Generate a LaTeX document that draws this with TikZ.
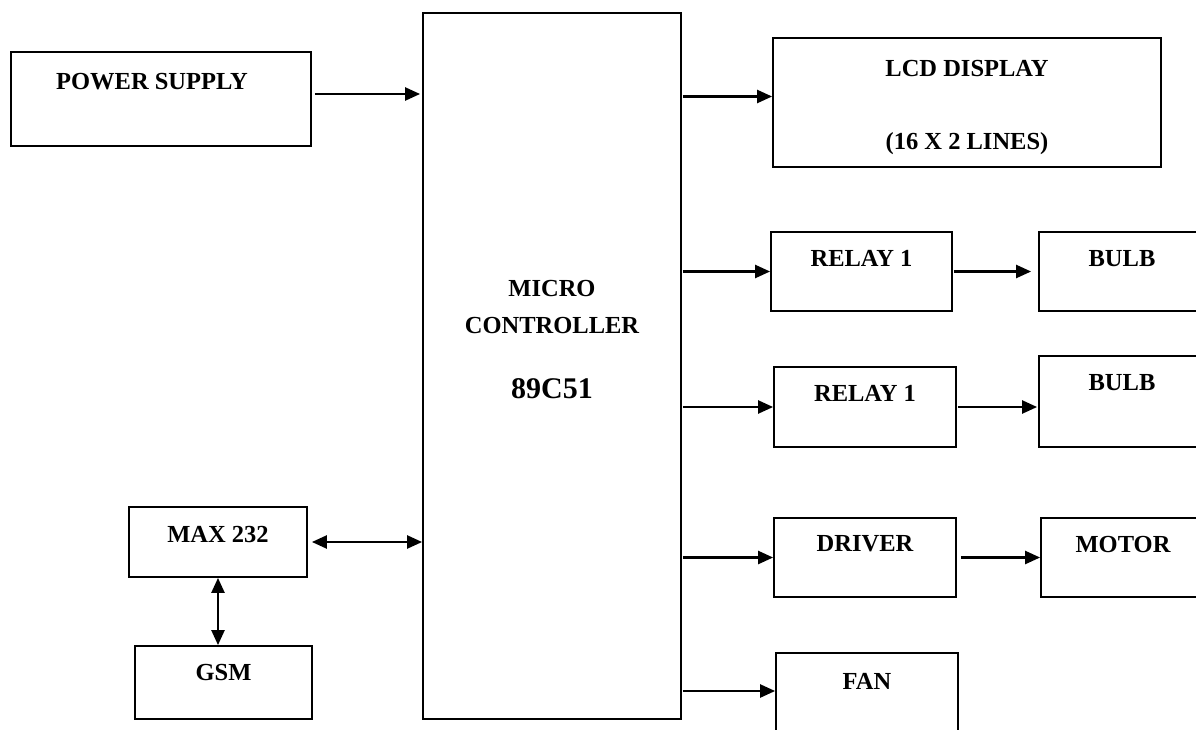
\documentclass[tikz,border=0pt]{standalone}
\usepackage{fontspec}
\setmainfont{Liberation Serif}
\usepackage{tikz}
\usetikzlibrary{arrows.meta}
\tikzset{
	block/.style={draw,line width=1.8pt,inner sep=0pt},
	boxtext/.style={anchor=center,yshift=-#1},
	boxtext/.default=27pt,
	link/.style={line width=2.4pt}
}

\begin{document}
\begin{tikzpicture}[x=1pt,y=-1pt,->,>={Triangle[length=15pt,width=13pt]},
	font=\bfseries\fontsize{24.5}{29}\selectfont]
	\useasboundingbox (0,0) rectangle (1196,730);
	\clip (0,0) rectangle (1196,730);
	\node [block,minimum width=300pt,minimum height=94pt,
		label={[boxtext=30pt,xshift=-9pt]north:POWER SUPPLY}] (ps) at (161,99) {};
	\node [block,minimum width=258pt,minimum height=706pt,
		label={[boxtext=295pt,align=center]north:MICRO\\[8pt]CONTROLLER},
		label={[boxtext=377pt,font=\bfseries\fontsize{30}{36}\selectfont]north:89C51}] (mc) at (552,366) {};
	\node [block,minimum width=388pt,minimum height=129pt,
		label={[boxtext=70.6pt,align=center]north:LCD DISPLAY\\[44pt](16 X 2 LINES)}] (lcd) at (967,102.2) {};
	\node [block,minimum width=181pt,minimum height=79pt,label={[boxtext]north:RELAY 1}] (rly1) at (861.5,271.5) {};
	\node [block,minimum width=182pt,minimum height=80pt,label={[boxtext]north:RELAY 1}] (rly2) at (865,407) {};
	\node [block,minimum width=166pt,minimum height=79pt,label={[boxtext]north:BULB}] (bulb1) at (1122,271.5) {};
	\node [block,minimum width=166pt,minimum height=91pt,label={[boxtext]north:BULB}] (bulb2) at (1122,401.5) {};
	\node [block,minimum width=182pt,minimum height=79pt,label={[boxtext]north:DRIVER}] (drv) at (865,557.5) {};
	\node [block,minimum width=164pt,minimum height=79pt,label={[boxtext]north:MOTOR}] (motor) at (1123,557.5) {};
	\node [block,minimum width=182pt,minimum height=87pt,label={[boxtext=29pt]north:FAN}] (fan) at (867,696.5) {};
	\node [block,minimum width=178pt,minimum height=70pt,label={[boxtext=28pt]north:MAX 232}] (max) at (218,542) {};
	\node [block,minimum width=177pt,minimum height=73pt,label={[boxtext]north:GSM}] (gsm) at (223.5,682.5) {};

	\draw [link,shorten <=3pt,shorten >=2pt] (ps.east |- 0,94) -- (mc.west |- 0,94);
	\draw [link,shorten <=1pt] (mc.east |- 0,96.5) -- (lcd.west |- 0,96.5);
	\draw [link,shorten <=1pt] (mc.east |- rly1.west) -- (rly1.west);
	\draw [link,shorten <=1pt] (mc.east |- rly2.west) -- (rly2.west);
	\draw [link,shorten <=1pt] (mc.east |- drv.west) -- (drv.west);
	\draw [link,shorten <=1pt] (mc.east |- 0,691) -- (fan.west |- 0,691);
	\draw [link,shorten <=1pt,shorten >=7pt] (rly1.east) -- (rly1.east -| bulb1.west);
	\draw [link,shorten <=1pt,shorten >=1pt] (rly2.east) -- (rly2.east -| bulb2.west);
	\draw [link,shorten <=4pt] (drv.east) -- (drv.east -| motor.west);
	\draw [link,<->,shorten <=4pt] (max.east) -- (mc.west |- max.east);
	\draw [link,<->] (max.south) -- (max.south |- gsm.north);
\end{tikzpicture}
\end{document}
